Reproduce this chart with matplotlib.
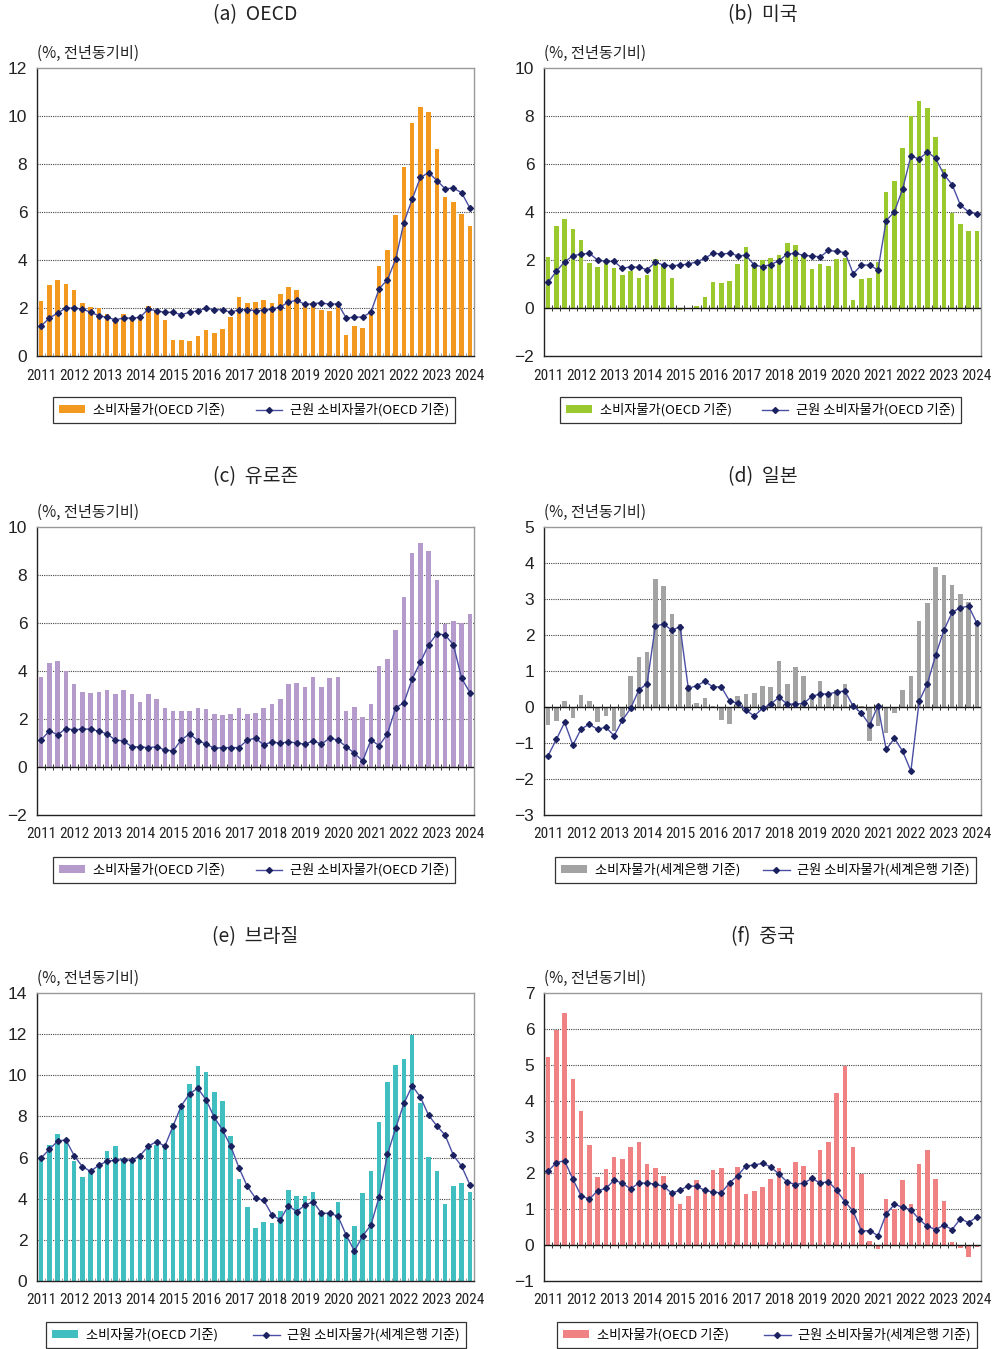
import matplotlib
matplotlib.use('Agg')
import matplotlib.pyplot as plt
from matplotlib import font_manager as fm
from matplotlib.lines import Line2D
from matplotlib.patches import Patch
import numpy as np

# ---------------- data (quarterly, 2011Q1 - 2024Q1) ----------------
years = [str(y) for y in range(2011, 2025)]

oecd_cpi = [2.28, 2.97, 3.18, 2.99, 2.76, 2.19, 2.06, 2.01, 1.74, 1.55,
            1.74, 1.49, 1.55, 2.07, 1.88, 1.49, 0.65, 0.65, 0.61, 0.82,
            1.10, 0.97, 1.12, 1.62, 2.44, 2.19, 2.24, 2.33, 2.22, 2.57,
            2.89, 2.74, 2.11, 2.26, 1.92, 1.89, 2.18, 0.86, 1.24, 1.18,
            1.83, 3.74, 4.42, 5.86, 7.86, 9.71, 10.39, 10.15, 8.64, 6.61,
            6.40, 5.90, 5.40]
oecd_core = [1.25, 1.58, 1.79, 2.00, 2.00, 1.96, 1.82, 1.68, 1.61, 1.51,
             1.58, 1.58, 1.61, 1.96, 1.88, 1.82, 1.82, 1.72, 1.82, 1.88,
             1.99, 1.93, 1.93, 1.82, 1.93, 1.93, 1.89, 1.90, 1.96, 2.04,
             2.25, 2.32, 2.15, 2.18, 2.22, 2.15, 2.18, 1.58, 1.62, 1.62,
             1.83, 2.80, 3.18, 4.03, 5.56, 6.53, 7.44, 7.64, 7.31, 6.97,
             7.00, 6.80, 6.17]

us_cpi = [2.13, 3.42, 3.72, 3.28, 2.82, 1.88, 1.72, 1.90, 1.68, 1.38,
          1.54, 1.25, 1.39, 2.04, 1.75, 1.25, -0.08, -0.02, 0.10, 0.44,
          1.10, 1.03, 1.11, 1.82, 2.53, 1.86, 1.99, 2.10, 2.21, 2.71,
          2.64, 2.15, 1.64, 1.82, 1.74, 2.04, 2.10, 0.35, 1.21, 1.25,
          1.90, 4.83, 5.30, 6.68, 7.99, 8.64, 8.35, 7.11, 5.78, 3.97,
          3.49, 3.21, 3.21]
us_core = [1.07, 1.53, 1.92, 2.18, 2.24, 2.28, 2.00, 1.94, 1.94, 1.65,
           1.72, 1.69, 1.60, 1.90, 1.79, 1.76, 1.79, 1.83, 1.92, 2.07,
           2.28, 2.25, 2.28, 2.18, 2.19, 1.79, 1.72, 1.81, 1.97, 2.25,
           2.28, 2.19, 2.17, 2.13, 2.40, 2.36, 2.31, 1.43, 1.79, 1.79,
           1.58, 3.64, 4.01, 4.97, 6.33, 6.21, 6.50, 6.24, 5.56, 5.14,
           4.29, 4.00, 3.92]

ez_cpi = [3.75, 4.34, 4.41, 4.02, 3.46, 3.14, 3.08, 3.14, 3.21, 3.03,
          3.21, 3.05, 2.70, 3.05, 2.84, 2.47, 2.32, 2.34, 2.32, 2.46,
          2.41, 2.20, 2.16, 2.20, 2.46, 2.20, 2.26, 2.44, 2.62, 2.82,
          3.46, 3.50, 3.35, 3.75, 3.32, 3.72, 3.75, 2.33, 2.51, 2.09,
          2.62, 4.20, 4.51, 5.72, 7.07, 8.90, 9.32, 9.00, 7.78, 5.94,
          6.07, 5.98, 6.36]
ez_core = [1.12, 1.51, 1.34, 1.60, 1.55, 1.58, 1.58, 1.49, 1.38, 1.12,
           1.09, 0.84, 0.84, 0.81, 0.84, 0.71, 0.67, 1.13, 1.38, 1.10,
           0.96, 0.78, 0.81, 0.81, 0.81, 1.12, 1.20, 0.92, 1.05, 0.99,
           1.05, 1.00, 0.95, 1.09, 0.95, 1.21, 1.12, 0.85, 0.57, 0.25,
           1.13, 0.89, 1.38, 2.46, 2.68, 3.66, 4.37, 5.09, 5.55, 5.50,
           5.09, 3.70, 3.10]

jp_cpi = [-0.51, -0.38, 0.16, -0.31, 0.33, 0.18, -0.43, -0.24, -0.68, -0.29,
          0.87, 1.40, 1.52, 3.56, 3.37, 2.58, 2.30, 0.60, 0.10, 0.24,
          0.02, -0.36, -0.46, 0.30, 0.35, 0.39, 0.58, 0.55, 1.29, 0.65,
          1.11, 0.87, 0.30, 0.72, 0.35, 0.48, 0.65, 0.10, 0.03, -0.94,
          -0.54, -0.72, -0.16, 0.48, 0.87, 2.38, 2.89, 3.88, 3.66, 3.39,
          3.15, 2.91, 2.40]
jp_core = [-1.35, -0.90, -0.43, -1.06, -0.61, -0.48, -0.62, -0.56, -0.80, -0.37,
           -0.04, 0.47, 0.65, 2.24, 2.31, 2.13, 2.23, 0.52, 0.59, 0.71,
           0.56, 0.56, 0.17, 0.10, -0.09, -0.25, -0.04, 0.08, 0.27, 0.08,
           0.08, 0.10, 0.30, 0.36, 0.36, 0.42, 0.44, 0.02, -0.17, -0.50,
           0.03, -1.18, -0.87, -1.23, -1.78, 0.16, 0.65, 1.44, 2.13, 2.63,
           2.76, 2.80, 2.33]

br_cpi = [6.10, 6.60, 7.15, 6.80, 5.83, 5.06, 5.25, 5.60, 6.33, 6.57,
          6.00, 5.89, 6.05, 6.44, 6.60, 6.55, 7.69, 8.54, 9.56, 10.43,
          10.17, 9.19, 8.76, 7.07, 4.94, 3.58, 2.60, 2.85, 2.81, 3.38,
          4.44, 4.15, 4.13, 4.34, 3.30, 3.30, 3.85, 2.27, 2.65, 4.28,
          5.33, 7.74, 9.67, 10.52, 10.81, 11.97, 8.65, 6.03, 5.37, 3.76,
          4.62, 4.75, 4.34]
br_core = [5.98, 6.40, 6.80, 6.86, 6.10, 5.56, 5.33, 5.63, 5.82, 5.87,
           5.90, 5.87, 6.10, 6.55, 6.78, 6.55, 7.53, 8.52, 9.10, 9.37,
           8.81, 7.96, 7.34, 6.55, 5.50, 4.60, 4.03, 3.92, 3.21, 2.98,
           3.66, 3.37, 3.69, 3.86, 3.29, 3.29, 3.15, 2.23, 1.46, 2.19,
           2.72, 4.09, 6.15, 7.43, 8.63, 9.49, 8.94, 8.05, 7.54, 7.09,
           6.11, 5.58, 4.68]

cn_cpi = [5.22, 5.96, 6.45, 4.61, 3.72, 2.78, 1.90, 2.10, 2.45, 2.40,
          2.72, 2.87, 2.26, 2.15, 1.91, 1.43, 1.15, 1.36, 1.80, 1.47,
          2.09, 2.13, 1.70, 2.17, 1.43, 1.49, 1.60, 1.82, 2.13, 1.75,
          2.30, 2.19, 1.82, 2.65, 2.85, 4.21, 4.96, 2.71, 1.96, 0.10,
          -0.12, 1.27, 1.00, 1.80, 1.14, 2.25, 2.64, 1.82, 1.23, 0.09,
          -0.07, -0.32, -0.05]
cn_core = [2.05, 2.29, 2.34, 1.83, 1.37, 1.27, 1.51, 1.57, 1.80, 1.72,
           1.56, 1.72, 1.72, 1.69, 1.63, 1.44, 1.52, 1.64, 1.63, 1.52,
           1.47, 1.45, 1.72, 1.93, 2.20, 2.22, 2.27, 2.17, 1.97, 1.75,
           1.68, 1.72, 1.85, 1.72, 1.76, 1.52, 1.20, 0.94, 0.39, 0.40,
           0.26, 0.86, 1.13, 1.05, 0.98, 0.71, 0.52, 0.43, 0.55, 0.43,
           0.73, 0.62, 0.78]

titles = ['(a)  OECD', '(b)  미국', '(c)  유로존', '(d)  일본', '(e)  브라질', '(f)  중국']
lab_oecd = ['소비자물가(OECD 기준)', '근원 소비자물가(OECD 기준)']
lab_wb = ['소비자물가(세계은행 기준)', '근원 소비자물가(세계은행 기준)']
lab_mix = ['소비자물가(OECD 기준)', '근원 소비자물가(세계은행 기준)']
unit_label = '(%, 전년동기비)'

# ---------------- fonts ----------------
names = {f.name for f in fm.fontManager.ttflist}
KR = 'Noto Sans CJK KR'
plt.rcParams['font.family'] = [KR, 'DejaVu Sans']
plt.rcParams['axes.unicode_minus'] = True

# look for a condensed face for the year labels
xfont = None
for cand in ['Liberation Sans Narrow', 'Roboto Condensed', 'Open Sans Condensed',
             'Noto Sans Condensed', 'DejaVu Sans Condensed', 'Arial Narrow']:
    if cand in names:
        xfont = fm.FontProperties(family=cand)
        break
if xfont is None:
    for f in fm.fontManager.ttflist:
        if 'condensed' in str(f.stretch).lower() or 'Condensed' in f.fname or 'Narrow' in f.fname:
            if 'Bold' not in f.fname and 'Oblique' not in f.fname and 'Italic' not in f.fname:
                xfont = fm.FontProperties(fname=f.fname)
                break
if xfont is not None:
    XSIZE = 11.0
else:
    xfont = fm.FontProperties(family='Liberation Sans')
    XSIZE = 9.2
yfont = fm.FontProperties(family='Liberation Sans')

# ---------------- layout ----------------
W, H = 996, 1349
fig = plt.figure(figsize=(W / 100, H / 100), dpi=100)


def rect(l, t, r, b):
    return [l / W, 1 - b / H, (r - l) / W, (b - t) / H]


panels = [
    dict(title=titles[0], cpi=oecd_cpi, core=oecd_core, color='#F4991F', ylim=(0, 12), step=2,
         labels=lab_oecd, box=(37, 68, 474, 356), ty=15, leg=(53, 455, 410)),
    dict(title=titles[1], cpi=us_cpi, core=us_core, color='#9AC92E', ylim=(-2, 10), step=2,
         labels=lab_oecd, box=(544, 68, 981, 356), ty=15, leg=(560, 961, 410)),
    dict(title=titles[2], cpi=ez_cpi, core=ez_core, color='#B59BCB', ylim=(-2, 10), step=2,
         labels=lab_oecd, box=(37, 527, 474, 815), ty=477, leg=(53, 455, 870)),
    dict(title=titles[3], cpi=jp_cpi, core=jp_core, color='#A3A3A3', ylim=(-3, 5), step=1,
         labels=lab_wb, box=(544, 527, 981, 815), ty=477, leg=(555, 976, 870)),
    dict(title=titles[4], cpi=br_cpi, core=br_core, color='#41BFC0', ylim=(0, 14), step=2,
         labels=lab_mix, box=(37, 993, 474, 1281), ty=937, leg=(46, 466, 1335)),
    dict(title=titles[5], cpi=cn_cpi, core=cn_core, color='#F08284', ylim=(-1, 7), step=1,
         labels=lab_mix, box=(544, 993, 981, 1281), ty=937, leg=(557, 977, 1335)),
]

LINE_C = '#4A4FA3'
MARK_C = '#1B215F'
MS = 3.0

for p in panels:
    l, t, r, b = p['box']
    ax = fig.add_axes(rect(l, t, r, b))
    n = len(p['cpi'])
    x = np.arange(n)
    ymin, ymax = p['ylim']
    ax.bar(x, p['cpi'], width=0.55, color=p['color'], zorder=2, linewidth=0)
    ax.plot(x, p['core'], color=LINE_C, lw=1.0, marker='D', ms=MS,
            mfc=MARK_C, mec=MARK_C, zorder=5)
    ax.set_xlim(-0.5, n - 0.5)
    ax.set_ylim(ymin, ymax)
    yt = np.arange(ymin, ymax + 0.001, p['step'])
    ax.set_yticks(yt)
    ax.set_yticklabels([f'{int(v)}' if v >= 0 else f'\u2212{int(-v)}' for v in yt])
    for yv in yt[1:-1]:
        if yv != 0:
            ax.axhline(yv, ls=(0, (1, 1)), color='#444444', lw=0.8, zorder=1)
    # small tick marks along the zero line at quarter boundaries
    tick_len = 3.0 / (b - t) * (ymax - ymin)
    bx = x[:-1] + 0.5
    if ymin < 0:
        ax.axhline(0, color='#111111', lw=1.0, zorder=3)
        ax.vlines(bx, -tick_len, tick_len, colors='#333333', lw=0.7, zorder=3)
    else:
        ax.vlines(bx, 0, tick_len, colors='#999999', lw=0.7, zorder=3)
    ax.set_xticks(x[::4])
    ax.set_xticklabels(years)
    ax.tick_params(axis='both', length=0)
    ax.tick_params(axis='y', pad=7, colors='#222222')
    ax.tick_params(axis='x', pad=9, colors='#222222')
    for lab in ax.get_xticklabels():
        lab.set_fontproperties(xfont)
        lab.set_fontsize(XSIZE)
    for lab in ax.get_yticklabels():
        lab.set_fontproperties(yfont)
        lab.set_fontsize(12.5)
    for s in ['left', 'bottom']:
        ax.spines[s].set_color('#222222')
        ax.spines[s].set_linewidth(1.0)
    for s in ['top', 'right']:
        ax.spines[s].set_color('#999999')
        ax.spines[s].set_linewidth(1.0)

    # title and unit label
    fig.text((l + r) / 2 / W, 1 - p['ty'] / H, p['title'], ha='center', va='center',
             fontsize=14, color='#222222')
    fig.text(l / W, 1 - (t - 15) / H, unit_label, ha='left', va='center',
             fontsize=11, color='#222222')

    # legend
    lx0, lx1, lyc = p['leg']
    ax_w, ax_h = r - l, b - t
    bb = ((lx0 - l) / ax_w, -(lyc - b) / ax_h, (lx1 - lx0) / ax_w, 0)
    handles = [Patch(facecolor=p['color'], edgecolor='none'),
               Line2D([], [], color=LINE_C, lw=1.0, marker='D', ms=MS, mfc=MARK_C, mec=MARK_C)]
    leg = ax.legend(handles, p['labels'], loc='center', bbox_to_anchor=bb, mode='expand',
                    ncol=2, frameon=True, fancybox=False, fontsize=9.5, handlelength=2.0,
                    handleheight=0.45, borderpad=0.45, handletextpad=0.6, columnspacing=1.0,
                    borderaxespad=0)
    fr = leg.get_frame()
    fr.set_edgecolor('#333333')
    fr.set_linewidth(0.9)
    fr.set_facecolor('white')
    fr.set_alpha(1)

fig.savefig('out.png', dpi=100, facecolor='white')
